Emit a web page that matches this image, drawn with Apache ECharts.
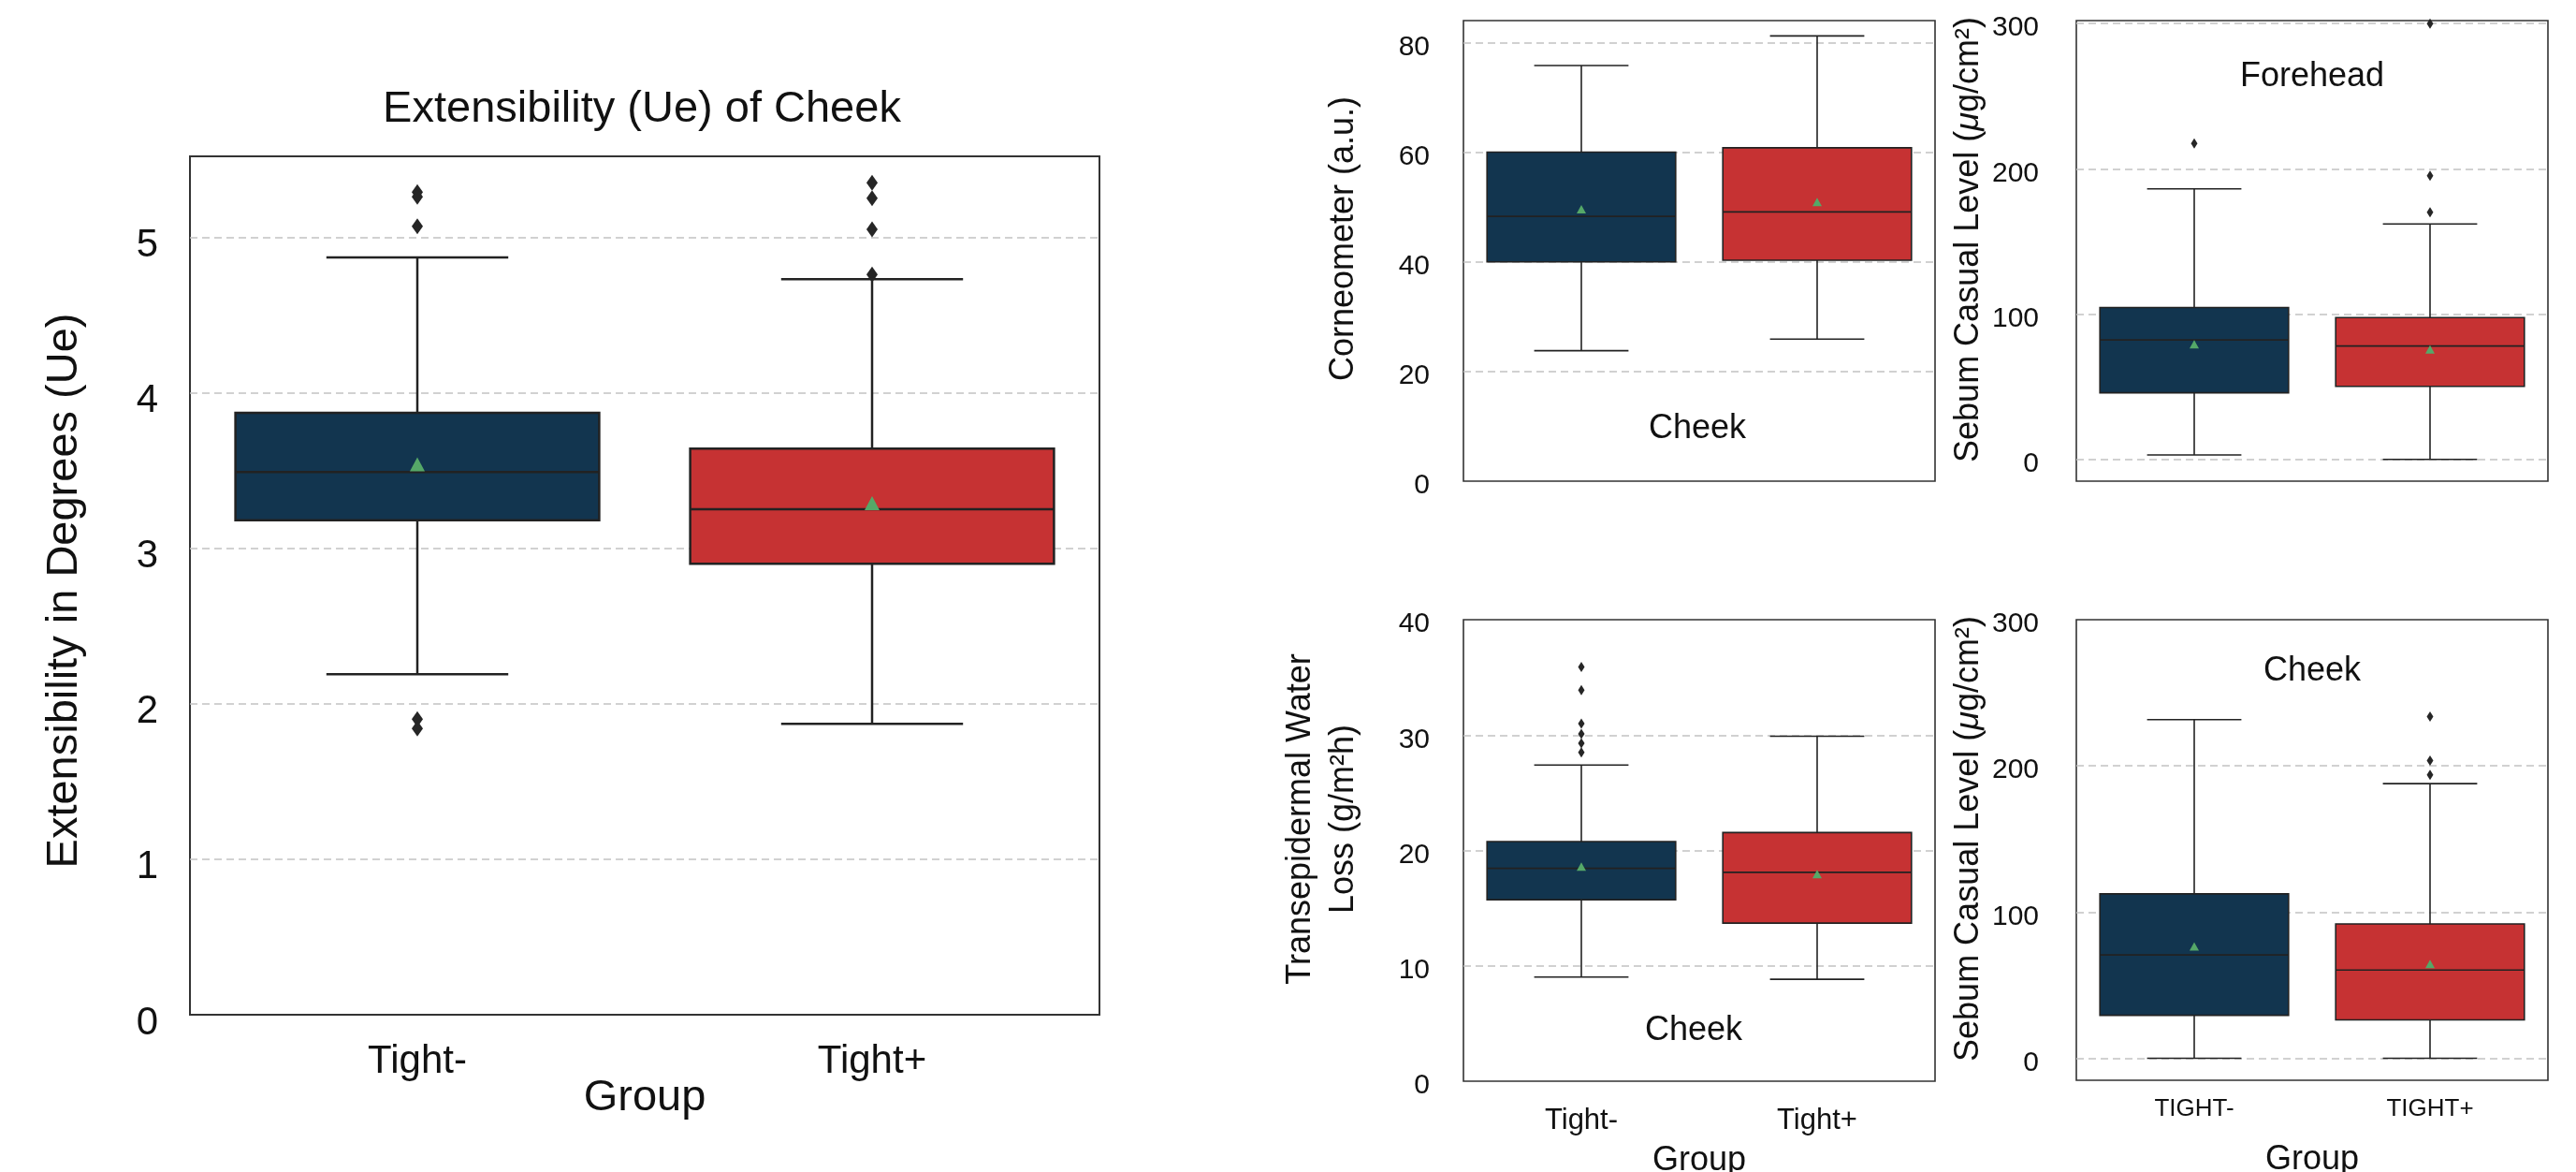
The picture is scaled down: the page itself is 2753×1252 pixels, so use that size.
<!DOCTYPE html>
<html><head><meta charset="utf-8">
<script src="https://cdn.jsdelivr.net/npm/echarts@6/dist/echarts.min.js"></script>
<style>html,body{margin:0;padding:0;background:#fff}#c{width:2753px;height:1252px}</style>
</head><body><div id="c"></div>
<script>
// ---------------- DATA ----------------
const groupsMixed = ['Tight-', 'Tight+'];
const groupsUpper = ['TIGHT-', 'TIGHT+'];

// each box: [lower whisker, Q1, median, Q3, upper whisker]
const ueBoxes = [[2.19, 3.18, 3.49, 3.87, 4.87], [1.87, 2.90, 3.25, 3.64, 4.73]];
const ueMeans = [3.54, 3.29];
const ueOutliers = [[0, 5.29], [0, 5.26], [0, 5.07], [0, 1.90], [0, 1.84], [1, 5.35], [1, 5.25], [1, 5.05], [1, 4.76]];
const ueTicks = [0, 1, 2, 3, 4, 5];

const corneoBoxes = [[23.8, 40.0, 48.3, 60.0, 75.8], [25.9, 40.3, 49.1, 60.8, 81.2]];
const corneoMeans = [49.6, 50.9];
const corneoOutliers = [];
const corneoTicks = [0, 20, 40, 60, 80];

const sebumForeheadBoxes = [[3.0, 45.8, 82.2, 104.5, 186.2], [0, 50.2, 78.0, 97.6, 162.0]];
const sebumForeheadMeans = [79.2, 75.7];
const sebumForeheadOutliers = [[0, 217.5], [1, 299.9], [1, 195.2], [1, 170.1]];
const sebumTicks = [0, 100, 200, 300];

const tewlBoxes = [[9.03, 15.73, 18.45, 20.77, 27.4], [8.83, 13.7, 18.1, 21.55, 29.9]];
const tewlMeans = [18.6, 17.96];
const tewlOutliers = [[0, 35.9], [0, 33.9], [0, 31.0], [0, 30.1], [0, 29.3], [0, 28.5]];
const tewlTicks = [0, 10, 20, 30, 40];

const sebumCheekBoxes = [[0, 29.4, 70.7, 112.5, 231.7], [0, 26.3, 60.4, 91.9, 187.9]];
const sebumCheekMeans = [76.6, 64.5];
const sebumCheekOutliers = [[1, 233.8], [1, 203.6], [1, 193.8]];

// ---------------- STYLE ----------------
const FONT = '"Liberation Sans", Arial, Helvetica, sans-serif';
const FILLS = ['#12354f', '#c63233'];
const LINE = '#222222';
const TEXT = '#111111';
const MEAN = '#55a868';

const panels = [
  { grid: {left: 203, top: 167, width: 972, height: 917}, cats: groupsMixed, boxes: ueBoxes, means: ueMeans, outliers: ueOutliers,
    min: 0, max: 5.52, ticks: ueTicks, tickFont: 42, labelMargin: 34, labelShift: 9, xFont: 42, xMargin: 29, nameFont: 47, nameGap: 66,
    lw: 2.5, frame: 2, meanSize: [16, 15], outSize: [12, 17], showX: true },
  { grid: {left: 1564, top: 22, width: 504, height: 492}, cats: groupsMixed, boxes: corneoBoxes, means: corneoMeans, outliers: corneoOutliers,
    min: 0, max: 84, ticks: corneoTicks, tickFont: 30, labelMargin: 36, labelShift: 5, xFont: 31, xMargin: 26, nameFont: 36, nameGap: 64,
    lw: 1.6, frame: 1.6, meanSize: [10, 9], outSize: [7, 11], showX: false },
  { grid: {left: 2219, top: 22, width: 504, height: 492}, cats: groupsUpper, boxes: sebumForeheadBoxes, means: sebumForeheadMeans, outliers: sebumForeheadOutliers,
    min: -15, max: 302, ticks: sebumTicks, tickFont: 30, labelMargin: 40, labelShift: 5, xFont: 26, xMargin: 17, nameFont: 36, nameGap: 64,
    lw: 1.6, frame: 1.6, meanSize: [10, 9], outSize: [7, 11], showX: false },
  { grid: {left: 1564, top: 662, width: 504, height: 493}, cats: groupsMixed, boxes: tewlBoxes, means: tewlMeans, outliers: tewlOutliers,
    min: 0, max: 40, ticks: tewlTicks, tickFont: 30, labelMargin: 36, labelShift: 5, xFont: 31, xMargin: 27, nameFont: 36, nameGap: 67,
    lw: 1.6, frame: 1.6, meanSize: [10, 9], outSize: [7, 11], showX: true },
  { grid: {left: 2219, top: 662, width: 504, height: 492}, cats: groupsUpper, boxes: sebumCheekBoxes, means: sebumCheekMeans, outliers: sebumCheekOutliers,
    min: -15, max: 300, ticks: sebumTicks, tickFont: 30, labelMargin: 40, labelShift: 5, xFont: 26, xMargin: 18, nameFont: 36, nameGap: 67,
    lw: 1.6, frame: 1.6, meanSize: [10, 9], outSize: [7, 11], showX: true }
];

function makeBoxRenderer(lw) {
  return function (params, api) {
    const xi = api.value(0);
    const lo = api.coord([xi, api.value(1)]);
    const q1 = api.coord([xi, api.value(2)]);
    const md = api.coord([xi, api.value(3)]);
    const q3 = api.coord([xi, api.value(4)]);
    const hi = api.coord([xi, api.value(5)]);
    const band = api.size([1, 0])[0];
    const bw = band * 0.8, cw = band * 0.4, cx = md[0];
    const ls = {stroke: LINE, lineWidth: lw};
    return {
      type: 'group',
      children: [
        {type: 'line', shape: {x1: cx, y1: hi[1], x2: cx, y2: q3[1]}, style: ls},
        {type: 'line', shape: {x1: cx, y1: q1[1], x2: cx, y2: lo[1]}, style: ls},
        {type: 'line', shape: {x1: cx - cw / 2, y1: hi[1], x2: cx + cw / 2, y2: hi[1]}, style: ls},
        {type: 'line', shape: {x1: cx - cw / 2, y1: lo[1], x2: cx + cw / 2, y2: lo[1]}, style: ls},
        {type: 'rect', shape: {x: cx - bw / 2, y: q3[1], width: bw, height: q1[1] - q3[1]},
          style: {fill: FILLS[params.dataIndex], stroke: LINE, lineWidth: lw}},
        {type: 'line', shape: {x1: cx - bw / 2, y1: md[1], x2: cx + bw / 2, y2: md[1]}, style: ls}
      ]
    };
  };
}

const grids = [], xAxes = [], yAxes = [], series = [];
panels.forEach(function (p, i) {
  grids.push(Object.assign({show: true, borderColor: '#333333', borderWidth: p.frame, backgroundColor: 'rgba(0,0,0,0)',
    containLabel: false, outerBoundsMode: 'none'}, p.grid));
  xAxes.push({
    type: 'category', gridIndex: i, data: p.cats,
    axisLine: {show: false}, axisTick: {show: false}, splitLine: {show: false},
    axisLabel: {show: p.showX, fontSize: p.xFont, fontFamily: FONT, color: TEXT, margin: p.xMargin},
    name: p.showX ? 'Group' : '', nameLocation: 'middle', nameGap: p.nameGap, nameMoveOverlap: false,
    nameTextStyle: {fontSize: p.nameFont, fontFamily: FONT, color: TEXT}
  });
  const inner = p.ticks.filter(function (v) { return v > p.min && v < p.max; });
  yAxes.push({
    type: 'value', gridIndex: i, min: p.min, max: p.max,
    axisLine: {show: false},
    axisTick: {show: false, customValues: inner},
    axisLabel: {customValues: p.ticks, fontSize: p.tickFont, fontFamily: FONT, color: TEXT, margin: p.labelMargin,
      verticalAlign: 'top', lineHeight: 2 * p.labelShift},
    splitLine: {show: true, lineStyle: {type: [8, 5], color: '#c2c2c2', width: 1.5}}
  });
  series.push({
    type: 'custom', xAxisIndex: i, yAxisIndex: i, renderItem: makeBoxRenderer(p.lw),
    encode: {x: 0, y: [1, 2, 3, 4, 5]},
    data: p.boxes.map(function (b, k) { return [k].concat(b); }), z: 2
  });
  series.push({
    type: 'scatter', xAxisIndex: i, yAxisIndex: i, symbol: 'triangle', symbolSize: p.meanSize,
    itemStyle: {color: MEAN, opacity: 1}, data: p.means.map(function (m, k) { return [k, m]; }), z: 4, silent: true
  });
  series.push({
    type: 'scatter', xAxisIndex: i, yAxisIndex: i, symbol: 'diamond', symbolSize: p.outSize,
    itemStyle: {color: '#262626', opacity: 1}, data: p.outliers, z: 4, silent: true
  });
});

function vText(x, y, text, size) {
  return {
    type: 'text', x: x, y: y, rotation: Math.PI / 2,
    style: {text: text, font: size + 'px ' + FONT, fill: TEXT, align: 'center', verticalAlign: 'middle'}
  };
}
function hText(x, y, text, size) {
  return {type: 'text', x: x, y: y, style: {text: text, font: size + 'px ' + FONT, fill: TEXT, align: 'center', verticalAlign: 'middle'}};
}
const muRich = {mu: {fontStyle: 'italic', fontSize: 36, fontFamily: FONT, fill: TEXT}};

const option = {
  animation: false,
  backgroundColor: '#ffffff',
  title: {
    text: 'Extensibility (Ue) of Cheek', left: 681, top: 89, textAlign: 'center',
    textStyle: {fontSize: 47, fontWeight: 'normal', fontFamily: FONT, color: TEXT}
  },
  grid: grids, xAxis: xAxes, yAxis: yAxes, series: series,
  graphic: [
    vText(69, 631, 'Extensibility in Degrees (Ue)', 47),
    vText(1436, 255, 'Corneometer (a.u.)', 36),
    {type: 'text', x: 2104, y: 256, rotation: Math.PI / 2,
      style: {text: 'Sebum Casual Level ({mu|μ}g/cm²)', font: '36px ' + FONT, fill: TEXT, align: 'center', verticalAlign: 'middle', rich: muRich}},
    {type: 'text', x: 1413, y: 875, rotation: Math.PI / 2,
      style: {text: 'Transepidermal Water\nLoss (g/m²h)', font: '36px ' + FONT, fill: TEXT, align: 'center', verticalAlign: 'middle', lineHeight: 46}},
    {type: 'text', x: 2104, y: 896, rotation: Math.PI / 2,
      style: {text: 'Sebum Casual Level ({mu|μ}g/cm²)', font: '36px ' + FONT, fill: TEXT, align: 'center', verticalAlign: 'middle', rich: muRich}},
    hText(1814, 458, 'Cheek', 36),
    hText(2471, 82, 'Forehead', 36),
    hText(1810, 1101, 'Cheek', 36),
    hText(2471, 717, 'Cheek', 36)
  ]
};

const chart = echarts.init(document.getElementById('c'), null, {renderer: 'canvas', width: 2753, height: 1252});
chart.setOption(option);
</script>
</body></html>
